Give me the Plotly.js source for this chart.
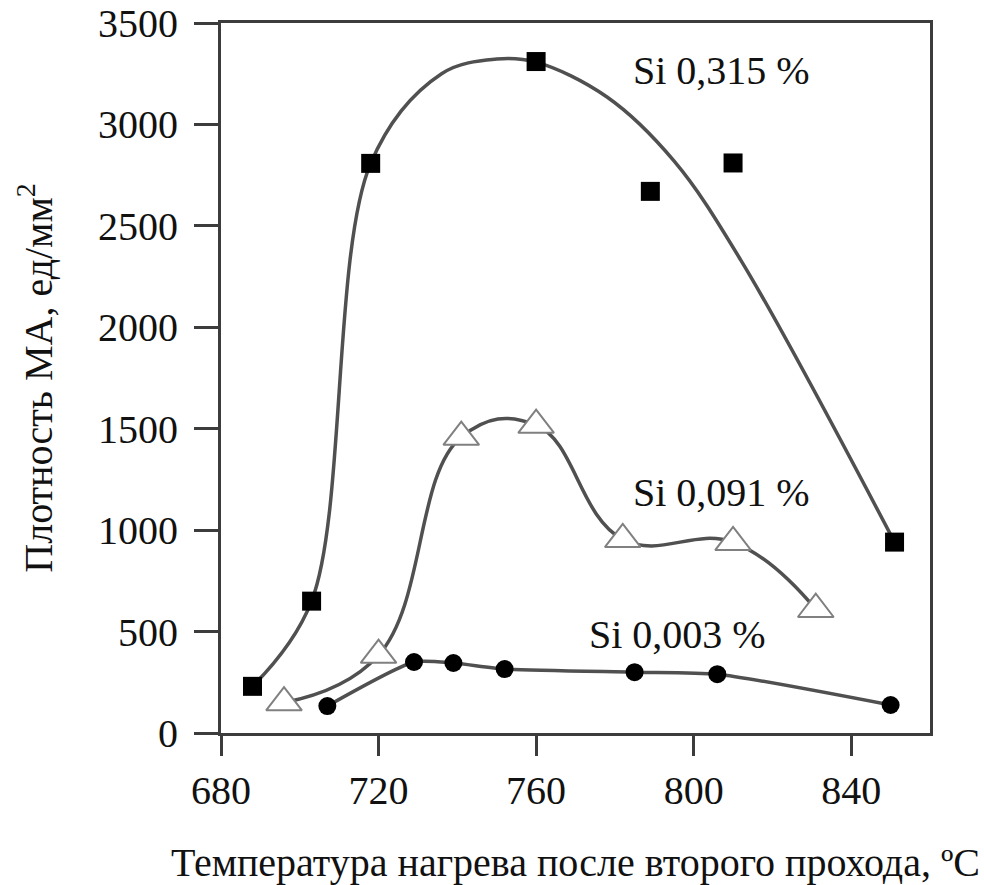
<!DOCTYPE html>
<html>
<head>
<meta charset="utf-8">
<script src="https://cdn.plot.ly/plotly-3.0.1.min.js"></script>
<style>html,body{margin:0;padding:0;background:#fff;}#chart{width:984px;height:885px;}</style>
</head>
<body>
<div id="chart"></div>
<script>
// Si 0,315 % — measured points
const si315X = [688, 703, 718, 760, 789, 810, 851];
const si315Y = [230, 650, 2808, 3310, 2670, 2810, 941];
// Si 0,315 % — trend curve
const si315FitX = [688, 703, 718, 736, 750, 760, 778, 795, 812, 851];
const si315FitY = [230, 650, 2808, 3250, 3322, 3307, 3135, 2820, 2330, 941];
// Si 0,091 %
const si091X = [696, 720, 741, 760, 782, 810, 831];
const si091Y = [150, 384, 1459, 1518, 955, 940, 610];
// Si 0,003 %
const si003X = [707, 729, 739, 752, 785, 806, 850];
const si003Y = [133, 350, 345, 315, 300, 290, 138];

const labels = ["Si 0,315 %", "Si 0,091 %", "Si 0,003 %"];
const labelX = [784, 784, 773];
const labelY = [3268, 1188, 488];

const lineColor = '#505050';
const serif = '"Liberation Serif", "Times New Roman", serif';

const traces = [
  {x: si315FitX, y: si315FitY, mode: 'lines', line: {color: lineColor, width: 3.5, shape: 'spline', smoothing: 1}, hoverinfo: 'skip', showlegend: false},
  {x: si091X, y: si091Y, mode: 'lines', line: {color: lineColor, width: 3.5, shape: 'spline', smoothing: 1.2}, hoverinfo: 'skip', showlegend: false},
  {x: si003X, y: si003Y, mode: 'lines', line: {color: lineColor, width: 3.5, shape: 'spline', smoothing: 0.6}, hoverinfo: 'skip', showlegend: false},
  {x: si315X, y: si315Y, mode: 'markers', name: labels[0], marker: {symbol: 'square', size: 19, color: '#000'}, showlegend: false},
  {x: si091X, y: si091Y, mode: 'markers', name: labels[1], marker: {symbol: 'triangle-up', size: 31, color: '#fff', line: {color: '#808080', width: 2}}, showlegend: false},
  {x: si003X, y: si003Y, mode: 'markers', name: labels[2], marker: {symbol: 'circle', size: 18, color: '#000'}, showlegend: false}
];

const annotations = labels.map((t, i) => ({
  x: labelX[i], y: labelY[i], xref: 'x', yref: 'y', text: t, showarrow: false,
  xanchor: 'left', yanchor: 'middle', font: {family: serif, size: 40, color: '#111'}
}));

const layout = {
  width: 984, height: 885,
  margin: {l: 221, r: 54, t: 23, b: 152},
  paper_bgcolor: '#fff', plot_bgcolor: '#fff',
  font: {family: serif, color: '#111'},
  xaxis: {
    range: [680, 860], tickvals: [680, 720, 760, 800, 840],
    showgrid: false, zeroline: false,
    showline: true, mirror: true, linecolor: '#3c3c3c', linewidth: 3,
    ticks: 'outside', ticklen: 20, tickwidth: 3, tickcolor: '#3c3c3c',
    tickfont: {family: serif, size: 40, color: '#111'},
    ticklabelstandoff: 0,
    title: {text: 'Температура нагрева после второго прохода, ºC', font: {family: serif, size: 40, color: '#111'}, standoff: 36}
  },
  yaxis: {
    range: [0, 3500], tickvals: [0, 500, 1000, 1500, 2000, 2500, 3000, 3500],
    showgrid: false, zeroline: false,
    showline: true, mirror: true, linecolor: '#3c3c3c', linewidth: 3,
    ticks: 'outside', ticklen: 24, tickwidth: 3, tickcolor: '#3c3c3c',
    tickfont: {family: serif, size: 40, color: '#111'},
    ticklabelstandoff: 8,
    title: {text: 'Плотность МА, ед/мм<sup>2</sup>', font: {family: serif, size: 40, color: '#111'}, standoff: 34}
  },
  annotations: annotations,
  showlegend: false
};

Plotly.newPlot('chart', traces, layout, {displayModeBar: false, staticPlot: true});
</script>
</body>
</html>
